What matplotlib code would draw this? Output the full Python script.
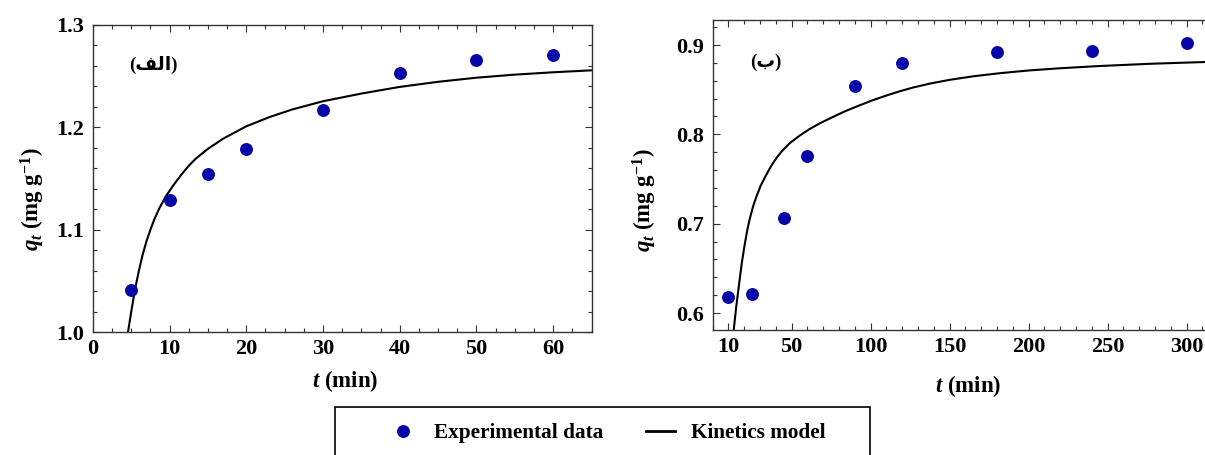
import matplotlib
matplotlib.use('Agg')
import matplotlib.pyplot as plt
from matplotlib.ticker import MultipleLocator, FixedLocator
from matplotlib.lines import Line2D
from matplotlib.patches import Rectangle

plt.rcParams['font.family'] = ['Liberation Serif', 'DejaVu Sans']
plt.rcParams['font.weight'] = 'bold'
plt.rcParams['mathtext.fontset'] = 'custom'
plt.rcParams['mathtext.rm'] = 'Liberation Serif:bold'
plt.rcParams['mathtext.bf'] = 'Liberation Serif:bold'
plt.rcParams['mathtext.it'] = 'Liberation Serif:italic:bold'

# ---------------- data ----------------
# panel (الف)
t_exp_a = [5, 10, 15, 20, 30, 40, 50, 60]
q_exp_a = [1.041, 1.129, 1.154, 1.179, 1.217, 1.253, 1.266, 1.271]
t_fit_a = [4.58, 5.0, 5.5, 6.0, 6.5, 7.0, 7.5, 8.0, 8.7, 9.5, 10.5, 11.5, 12.5,
           13.5, 15.0, 17.0, 20.0, 23.0, 26.0, 30.0, 35.0, 40.0, 45.0, 50.0,
           55.0, 60.0, 65.0]
q_fit_a = [1.000, 1.020, 1.042, 1.060, 1.076, 1.089, 1.100, 1.110, 1.1215,
           1.1325, 1.1435, 1.1535, 1.1625, 1.1700, 1.1790, 1.1890, 1.2010,
           1.2100, 1.2175, 1.2255, 1.2330, 1.2395, 1.2445, 1.2485, 1.2515,
           1.2538, 1.2557]

# panel (ب)
t_exp_b = [10, 25, 45, 60, 90, 120, 180, 240, 300]
q_exp_b = [0.618, 0.621, 0.706, 0.776, 0.854, 0.880, 0.892, 0.893, 0.902]
t_fit_b = [13.3, 14.9, 17.1, 18.5, 20.2, 21.8, 23.4, 25.5, 27.6, 30.5, 33.9,
           37.0, 40.3, 44.0, 48.7, 55.0, 61.4, 68.0, 76.1, 84.0, 93.0, 101.0,
           110.0, 118.0, 127.0, 138.0, 150.0, 165.0, 182.0, 200.0, 220.0,
           245.0, 277.0, 312.0]
q_fit_b = [0.581, 0.607, 0.638, 0.657, 0.676, 0.692, 0.705, 0.719, 0.730,
           0.743, 0.7547, 0.7645, 0.7734, 0.7815, 0.790, 0.7985, 0.806,
           0.8125, 0.8195, 0.8260, 0.8325, 0.8380, 0.8435, 0.8480, 0.8525,
           0.8570, 0.8610, 0.8650, 0.8685, 0.8715, 0.8740, 0.8765, 0.8790,
           0.8810]

xticks_a = [0, 10, 20, 30, 40, 50, 60]
yticks_a = [1.0, 1.1, 1.2, 1.3]
xticks_b = [10, 50, 100, 150, 200, 250, 300]
yticks_b = [0.6, 0.7, 0.8, 0.9]

label_a = "(\uFED2\uFEDF\uFE8D)"
label_b = "(\uFE8F)"
legend_labels = ["Experimental data", "Kinetics model"]

# ---------------- layout ----------------
W, H = 1205, 455
fig = plt.figure(figsize=(W / 100, H / 100), dpi=100)


def px_axes(x0, x1, ytop, ybot):
    return fig.add_axes([x0 / W, 1 - ybot / H, (x1 - x0) / W, (ybot - ytop) / H])


DOT = '#0505A8'
FS = 16


def style(ax, xmaj, xmin, ymaj, ymin, xlim, ylim, right=True):
    ax.set_xlim(*xlim)
    ax.set_ylim(*ylim)
    ax.xaxis.set_major_locator(FixedLocator(xmaj))
    ax.xaxis.set_minor_locator(MultipleLocator(xmin))
    ax.yaxis.set_major_locator(FixedLocator(ymaj))
    ax.yaxis.set_minor_locator(MultipleLocator(ymin))
    ax.set_xticklabels([str(v) for v in xmaj])
    ax.set_yticklabels(['{:.1f}'.format(v) for v in ymaj])
    ax.tick_params(which='both', direction='in', top=True, right=right,
                   width=0.8, color='#333333')
    ax.tick_params(which='major', length=5)
    ax.tick_params(which='minor', length=3)
    ax.tick_params(axis='y', which='major', pad=6, labelsize=FS)
    ax.tick_params(axis='x', which='major', pad=5, labelsize=FS)
    for lab in ax.get_xticklabels() + ax.get_yticklabels():
        lab.set_fontweight('bold')
    for s in ax.spines.values():
        s.set_linewidth(1.0)
        s.set_color('#333333')


axA = px_axes(92.9, 591.5, 25, 332)
axA.plot(t_fit_a, q_fit_a, color='black', lw=1.5, zorder=2)
axA.plot(t_exp_a, q_exp_a, 'o', color=DOT, ms=8.3, mec=DOT, zorder=3)
style(axA, xticks_a, 2.5, yticks_a, 0.02, (0, 65), (1.0, 1.3))

axB = px_axes(712.7, 1205.5, 20, 330)
axB.plot(t_fit_b, q_fit_b, color='black', lw=1.5, zorder=2)
axB.plot(t_exp_b, q_exp_b, 'o', color=DOT, ms=8.3, mec=DOT, zorder=3)
style(axB, xticks_b, 10, yticks_b, 0.02, (0, 312), (0.581, 0.928), right=False)
axB.spines['right'].set_visible(False)

# axis labels
ylab = r'$q_t$ (mg g$^{-1}$)'
xlab = r'$t$ (min)'
fig.text(33 / W, 1 - 199 / H, ylab, rotation=90, ha='center', va='center',
         fontsize=16.5, fontweight='bold')
fig.text(645 / W, 1 - 200 / H, ylab, rotation=90, ha='center', va='center',
         fontsize=16.5, fontweight='bold')
fig.text(345 / W, 1 - 381 / H, xlab, ha='center', va='center',
         fontsize=16.5, fontweight='bold')
fig.text(968 / W, 1 - 386 / H, xlab, ha='center', va='center',
         fontsize=16.5, fontweight='bold')

# panel labels
fig.text(153 / W, 1 - 65 / H, label_a, ha='center', va='center',
         fontsize=13.5, fontweight='bold')
fig.text(766 / W, 1 - 62 / H, label_b, ha='center', va='center',
         fontsize=13.5, fontweight='bold')

# legend
handles = [Line2D([], [], ls='none', marker='o', color=DOT, ms=8.3),
           Line2D([], [], color='black', lw=2)]
fig.legend(handles, legend_labels, loc='center left',
           bbox_to_anchor=(388 / W, 1 - 433 / H), ncol=2, frameon=False,
           prop={'family': 'Liberation Serif', 'weight': 'bold', 'size': 15.3},
           handlelength=1.4, handletextpad=0.75, columnspacing=2.0,
           borderpad=0, borderaxespad=0)
fig.patches.append(Rectangle((335 / W, -0.2), (870 - 335) / W, 0.2 + 1 - 407 / H,
                             transform=fig.transFigure, fill=False,
                             edgecolor='black', lw=1.2, clip_on=False))

fig.savefig('out.png', dpi=100)
